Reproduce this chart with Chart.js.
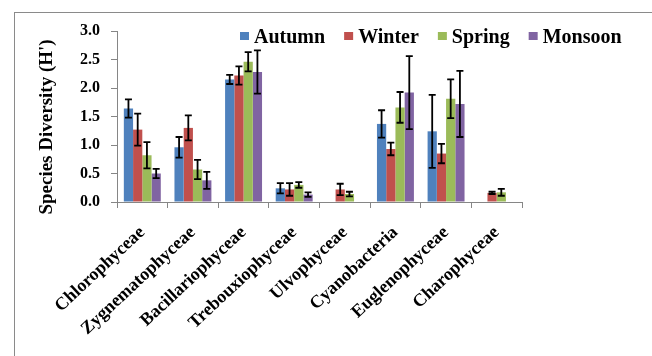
<!DOCTYPE html>
<html>
<head>
<meta charset="utf-8">
<script src="https://cdn.jsdelivr.net/npm/chart.js@4.4.1/dist/chart.umd.min.js"></script>
<style>
  html, body { margin: 0; padding: 0; background: #ffffff; }
  #wrap { position: relative; width: 652px; height: 356px; overflow: hidden; background: #ffffff; }
  #frame { position: absolute; left: 14px; top: 12px; width: 700px; height: 400px;
           border-left: 1px solid #8a8a8a; border-top: 1px solid #8a8a8a; }
  #c { position: absolute; left: 0; top: 0; }
</style>
</head>
<body>
<div id="wrap">
  <div id="frame"></div>
  <canvas id="c" width="652" height="356"></canvas>
</div>
<script>
const categories = ['Chlorophyceae', 'Zygnematophyceae', 'Bacillariophyceae', 'Trebouxiophyceae',
                    'Ulvophyceae', 'Cyanobacteria', 'Euglenophyceae', 'Charophyceae'];
const seriesNames = ['Autumn', 'Winter', 'Spring', 'Monsoon'];
const autumn  = [1.64, 0.96, 2.15, 0.24, 0.00, 1.37, 1.24, 0.00];
const winter  = [1.27, 1.30, 2.22, 0.22, 0.22, 0.93, 0.85, 0.16];
const spring  = [0.82, 0.57, 2.46, 0.30, 0.14, 1.66, 1.81, 0.17];
const monsoon = [0.50, 0.38, 2.28, 0.13, 0.00, 1.92, 1.72, 0.00];
const autumnErr  = [0.16, 0.18, 0.08, 0.09, 0.00, 0.24, 0.64, 0.00];
const winterErr  = [0.28, 0.22, 0.16, 0.11, 0.10, 0.11, 0.17, 0.02];
const springErr  = [0.23, 0.17, 0.17, 0.05, 0.04, 0.27, 0.34, 0.06];
const monsoonErr = [0.08, 0.15, 0.38, 0.04, 0.00, 0.64, 0.58, 0.00];
const yTicks = [0.0, 0.5, 1.0, 1.5, 2.0, 2.5, 3.0];
const yTitle = "Species Diversity (H')";

const colors = ['#4F81BD', '#C0504D', '#9BBB59', '#8064A2'];
const values = [autumn, winter, spring, monsoon];
const errors = [autumnErr, winterErr, springErr, monsoonErr];
const serif = '"Liberation Serif", "Times New Roman", serif';

const errorBars = {
  id: 'errorBars',
  afterDatasetsDraw(chart) {
    const ctx = chart.ctx;
    const y = chart.scales.y;
    ctx.save();
    ctx.strokeStyle = '#000000';
    ctx.lineWidth = 1.8;
    chart.data.datasets.forEach((ds, i) => {
      const meta = chart.getDatasetMeta(i);
      meta.data.forEach((bar, j) => {
        const v = ds.data[j], e = ds.errors[j];
        if (!v || !e) return;
        const x = bar.x;
        const t = y.getPixelForValue(v + e);
        const b = y.getPixelForValue(v - e);
        ctx.beginPath();
        ctx.moveTo(x, t); ctx.lineTo(x, b);
        ctx.moveTo(x - 3.5, t); ctx.lineTo(x + 3.5, t);
        ctx.moveTo(x - 3.5, b); ctx.lineTo(x + 3.5, b);
        ctx.stroke();
      });
    });
    ctx.restore();
  }
};

const customLegend = {
  id: 'customLegend',
  afterDraw(chart) {
    const ctx = chart.ctx;
    ctx.save();
    ctx.font = 'bold 20px ' + serif;
    ctx.textBaseline = 'alphabetic';
    ctx.textAlign = 'left';
    let x = 240;
    chart.data.datasets.forEach((ds) => {
      ctx.fillStyle = ds.backgroundColor;
      ctx.fillRect(x, 32, 9, 8);
      ctx.fillStyle = '#000000';
      ctx.fillText(ds.label, x + 14, 43);
      x += 14 + ctx.measureText(ds.label).width + 19;
    });
    ctx.restore();
  }
};

const yTitlePlugin = {
  id: 'yTitlePlugin',
  afterDraw(chart) {
    const ctx = chart.ctx;
    ctx.save();
    ctx.translate(47, 127);
    ctx.rotate(-Math.PI / 2);
    ctx.font = 'bold 19px ' + serif;
    ctx.fillStyle = '#000000';
    ctx.textAlign = 'center';
    ctx.textBaseline = 'middle';
    ctx.fillText(yTitle, 0, 0);
    ctx.restore();
  }
};

new Chart(document.getElementById('c'), {
  type: 'bar',
  data: {
    labels: categories,
    datasets: seriesNames.map((n, i) => ({
      label: n,
      data: values[i],
      errors: errors[i],
      backgroundColor: colors[i],
      borderWidth: 0,
      categoryPercentage: 0.73,
      barPercentage: 1.0
    }))
  },
  options: {
    responsive: false,
    animation: false,
    layout: { padding: { left: 0, right: 130, top: 31, bottom: 0 } },
    plugins: { legend: { display: false }, tooltip: { enabled: false } },
    scales: {
      x: {
        grid: { drawOnChartArea: false, drawTicks: true, tickLength: 6, color: '#868686', offset: true },
        border: { color: '#868686', width: 1 },
        ticks: {
          autoSkip: false, minRotation: 43, maxRotation: 43, padding: 14,
          color: '#000000', font: { family: serif, size: 18, weight: 'bold' }
        },
        afterFit(scale) { scale.height = 154; }
      },
      y: {
        min: 0, max: 3,
        grid: { drawOnChartArea: false, drawTicks: true, tickLength: 6, color: '#868686' },
        border: { color: '#868686', width: 1 },
        afterBuildTicks(scale) { scale.ticks = yTicks.map(v => ({ value: v })); },
        ticks: {
          padding: 11, color: '#000000',
          font: { family: serif, size: 16, weight: 'bold' },
          callback: (v) => Number(v).toFixed(1)
        },
        afterFit(scale) { scale.width = 117; }
      }
    }
  },
  plugins: [errorBars, customLegend, yTitlePlugin]
});
</script>
</body>
</html>
